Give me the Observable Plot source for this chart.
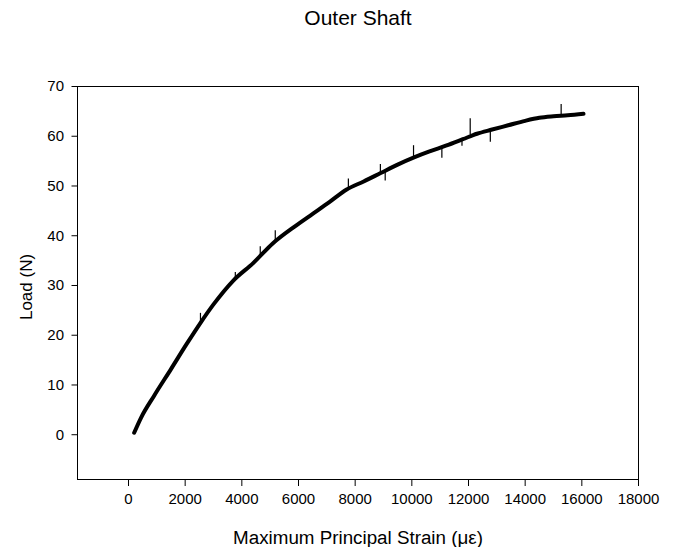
<!DOCTYPE html>
<html>
<head>
<meta charset="utf-8">
<script src="https://cdn.jsdelivr.net/npm/d3@7"></script>
<script src="https://cdn.jsdelivr.net/npm/@observablehq/plot@0.6"></script>
<style>
  html, body { margin: 0; padding: 0; background: #fff; }
  svg { font-family: "Liberation Sans", Arial, sans-serif; }
</style>
</head>
<body>
<div id="chart"></div>
<script>
const title = "Outer Shaft";
const xLabel = "Maximum Principal Strain (\u03bc\u03b5)";
const yLabel = "Load (N)";

const xTicks = [0, 2000, 4000, 6000, 8000, 10000, 12000, 14000, 16000, 18000];
const yTicks = [0, 10, 20, 30, 40, 50, 60, 70];

// Curve
const strain = [200, 450, 900, 1500, 2060, 2530, 3000, 3700, 4400, 5100, 5900, 6500, 7100, 7700, 8300, 8900, 9500, 10100, 10600, 11200, 11800, 12300, 12800, 13400, 14000, 14500, 15000, 15500, 16060];
const load   = [0.4, 3.5, 7.8, 13.2, 18.3, 22.4, 26.2, 31.0, 34.5, 38.5, 42.0, 44.4, 46.8, 49.3, 50.9, 52.6, 54.3, 55.8, 56.9, 58.1, 59.4, 60.5, 61.3, 62.2, 63.1, 63.7, 64.0, 64.2, 64.5];

// Noise spikes visible on the trace
const spikeX  = [2540, 3770, 4650, 5180, 7760, 8890, 9060, 10060, 11060, 11770, 12060, 12770, 15270];
const spikeY1 = [22.4, 31.3, 36.0, 38.8, 49.5, 52.6, 53.0, 55.8, 58.0, 59.4, 60.3, 61.5, 64.2];
const spikeY2 = [24.4, 32.6, 37.8, 41.0, 51.4, 54.3, 51.0, 58.1, 55.6, 58.0, 63.5, 58.8, 66.4];

const curve = strain.map((s, i) => ({x: s, y: load[i]}));
const spikes = spikeX.map((s, i) => ({x: s, y1: spikeY1[i], y2: spikeY2[i]}));

const chart = Plot.plot({
  width: 675,
  height: 547,
  marginLeft: 77,
  marginTop: 86,
  marginRight: 37,
  marginBottom: 68,
  style: {fontFamily: "'Liberation Sans', Arial, sans-serif", fontSize: "15px", background: "#fff", color: "#000"},
  x: {domain: [-1800, 18000]},
  y: {domain: [-9, 70]},
  marks: [
    Plot.frame({stroke: "#000", strokeWidth: 1}),
    Plot.axisX({ticks: xTicks, tickFormat: d => String(d), tickSize: 7, tickPadding: 7, label: null, fontSize: 15}),
    Plot.axisY({ticks: yTicks, tickFormat: d => String(d), tickSize: 5.5, tickPadding: 8, label: null, fontSize: 15}),
    Plot.line(curve, {x: "x", y: "y", curve: "monotone-x", stroke: "#000", strokeWidth: 4, strokeLinejoin: "round", strokeLinecap: "round"}),
    Plot.ruleX(spikes, {x: "x", y1: "y1", y2: "y2", stroke: "#000", strokeWidth: 1.2}),
    Plot.text([title], {frameAnchor: "top", lineAnchor: "middle", dy: -68, fontSize: 21, fill: "#000"}),
    Plot.text([xLabel], {frameAnchor: "bottom", lineAnchor: "middle", dy: 58, fontSize: 18.8, fill: "#000"}),
    Plot.text([yLabel], {frameAnchor: "left", textAnchor: "middle", lineAnchor: "middle", dx: -51, dy: 4, rotate: -90, fontSize: 17, fill: "#000"})
  ]
});
document.getElementById("chart").appendChild(chart);
</script>
</body>
</html>
